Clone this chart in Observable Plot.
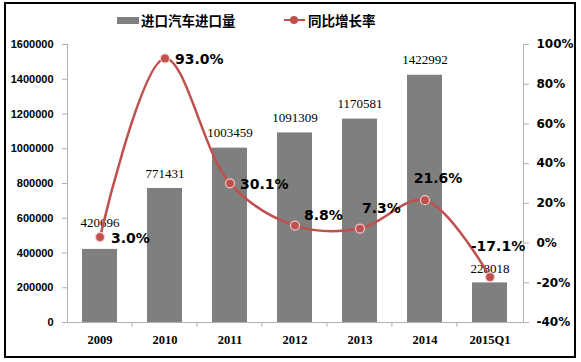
<!DOCTYPE html>
<html><head><meta charset="utf-8">
<script src="https://cdn.jsdelivr.net/npm/d3@7"></script>
<script src="https://cdn.jsdelivr.net/npm/@observablehq/plot@0.6"></script>
<style>
body{margin:0;background:#fff;}
#wrap{position:relative;width:581px;height:362px;overflow:hidden;background:#fff;}
#border{position:absolute;left:4px;top:2px;width:572px;height:356px;border:2px solid #000;box-sizing:border-box;pointer-events:none;}
.leg{position:absolute;top:11px;height:18px;display:flex;align-items:center;font-family:"Noto Sans CJK SC",sans-serif;font-weight:bold;font-size:13.5px;color:#000;white-space:nowrap;}
.sw{width:22px;height:7px;background:#7f7f7f;margin-right:2px;}
.ln{position:relative;width:21px;height:2px;background:#c0504d;margin-right:3px;}
.ln i{position:absolute;left:6px;top:-3px;width:8px;height:8px;border-radius:50%;background:#c0504d;}
svg{position:absolute;left:0;top:0;}
</style></head>
<body>
<div id="wrap">
  <div class="leg" style="left:117px"><div class="sw"></div><span id="lg1"></span></div>
  <div class="leg" style="left:284px"><div class="ln"><i></i></div><span id="lg2"></span></div>
  <div id="chart"></div>
  <div id="border"></div>
</div>
<script>
const seriesNames = ["进口汽车进口量", "同比增长率"];
const categories = ["2009", "2010", "2011", "2012", "2013", "2014", "2015Q1"];
const imports = [420696, 771431, 1003459, 1091309, 1170581, 1422992, 228018];
const growth = [3.0, 93.0, 30.1, 8.8, 7.3, 21.6, -17.1];
const leftTicks = [0, 200000, 400000, 600000, 800000, 1000000, 1200000, 1400000, 1600000];
const rightTicks = [-40, -20, 0, 20, 40, 60, 80, 100];

document.getElementById("lg1").textContent = seriesNames[0];
document.getElementById("lg2").textContent = seriesNames[1];

const yMax = 1600000, pMin = -40, pMax = 100;
const pctY = p => (p - pMin) / (pMax - pMin) * yMax;
const yPct = v => Math.round(v / yMax * (pMax - pMin) + pMin);

const rows = categories.map((c, i) => ({cat: c, value: imports[i], growth: growth[i], i}));

const W = 581, H = 362, mL = 67, mR = 58, mT = 44, mB = 40;
const step = (W - mL - mR) / categories.length;

// label placement for the growth labels [dx, dy, anchor]
const place = [[11, 1, "start"], [10, 1, "start"], [10, 1, "start"], [9, -10, "start"], [2, -20, "start"], [13, -22, "middle"], [8, -31, "middle"]];
// vertical offset of the value labels above the bars
const valueDy = [-27, -15, -15, -15, -15, -15, -14];

const red = "#c0504d";
const pctLabels = rows.map((r, k) => Plot.text([r], {
  x: "cat", y: d => pctY(d.growth), text: d => d.growth.toFixed(1) + "%",
  dx: place[k][0], dy: place[k][1], textAnchor: place[k][2],
  fontFamily: "DejaVu Sans", fontWeight: "bold", fontSize: 14, fill: "#000"
}));
const valueLabels = rows.map((r, k) => Plot.text([r], {
  x: "cat", y: "value", text: d => String(d.value), dy: valueDy[k],
  fontFamily: "Liberation Serif", fontSize: 13, fill: "#000"
}));

const chart = Plot.plot({
  width: W, height: H,
  marginLeft: mL, marginRight: mR, marginTop: mT, marginBottom: mB,
  style: {background: "transparent", overflow: "visible"},
  x: {domain: categories, paddingInner: 0.46, paddingOuter: 0.23, axis: null},
  y: {domain: [0, yMax], axis: null},
  marks: [
    Plot.barY(rows, {x: "cat", y: "value", fill: "#7f7f7f"}),
    Plot.ruleY([0], {stroke: "#b0b0b0"}),
    Plot.ruleX(categories.slice(1), {x: d => d, dx: -step / 2 - 0.5, y1: 0, y2: -28000, stroke: "#b0b0b0"}),
    Plot.axisY({anchor: "left", ticks: leftTicks, tickFormat: d3.format("d"), tickSize: 5, tickPadding: 9,
      stroke: "#b0b0b0", fill: "#000", fontFamily: "Liberation Sans", fontWeight: "bold", fontSize: 11, label: null}),
    Plot.axisY({anchor: "right", ticks: rightTicks.map(pctY), tickFormat: v => yPct(v) + "%", tickSize: 5, tickPadding: 8,
      stroke: "#b0b0b0", fill: "#000", fontFamily: "DejaVu Sans", fontWeight: "bold", fontSize: 12, label: null}),
    Plot.axisX({anchor: "bottom", tickSize: 0, tickPadding: 13, fontFamily: "Liberation Serif", fontWeight: "bold", fontSize: 12.5, fill: "#000", label: null}),
    Plot.frame({anchor: "left", stroke: "#b0b0b0"}),
    Plot.frame({anchor: "right", stroke: "#b0b0b0"}),
    ...valueLabels,
    Plot.line(rows, {x: "cat", y: d => pctY(d.growth), stroke: red, strokeWidth: 2.5, curve: "catmull-rom"}),
    Plot.dot(rows, {x: "cat", y: d => pctY(d.growth), r: 4.5, fill: red, stroke: "#f3c8c6", strokeWidth: 1.2}),
    ...pctLabels
  ]
});
document.getElementById("chart").appendChild(chart);
</script>
</body></html>
